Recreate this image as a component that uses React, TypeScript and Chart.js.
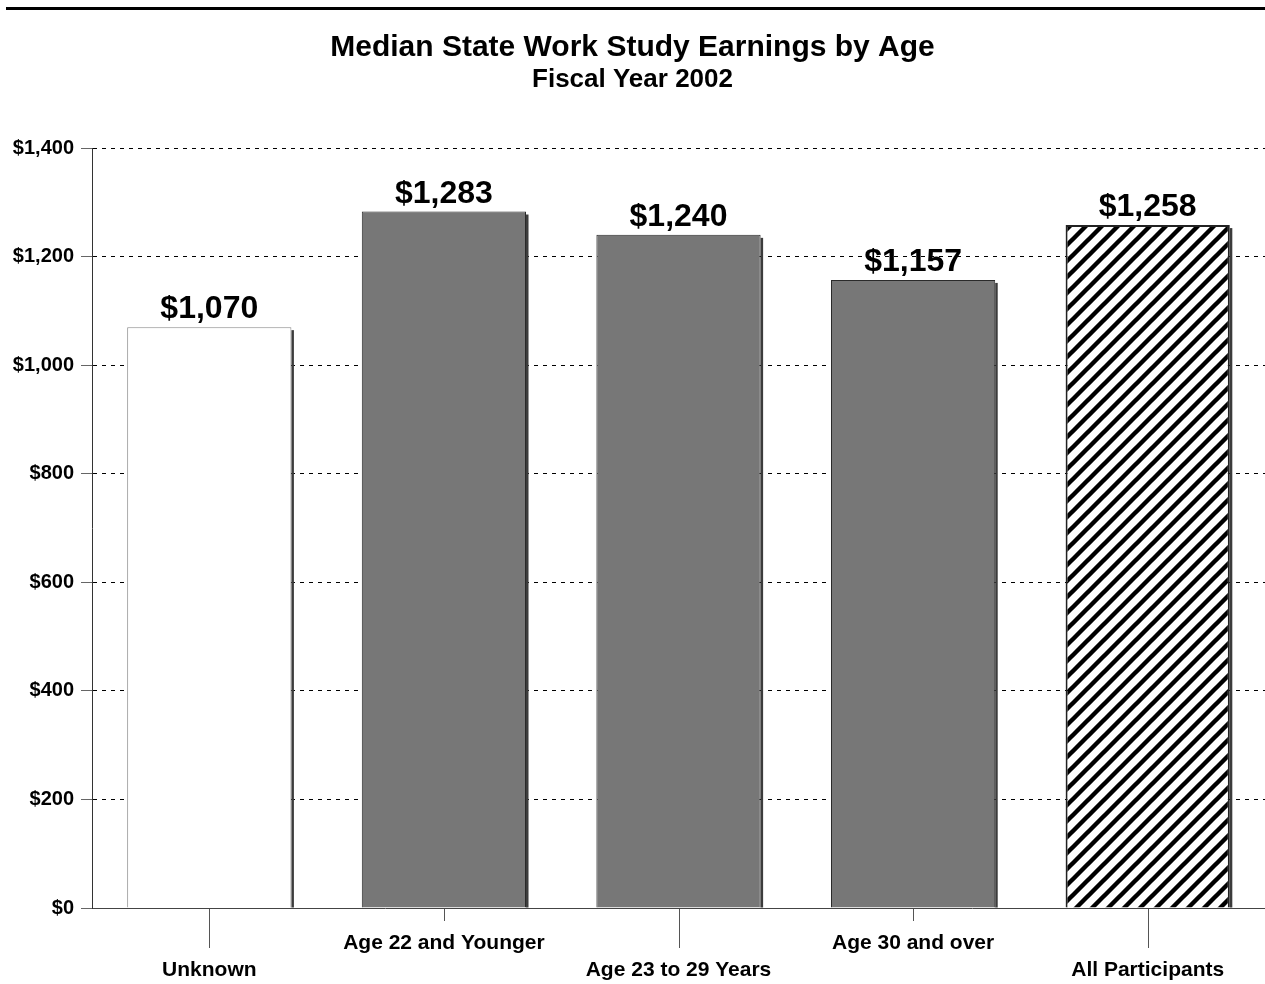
import React, { useEffect, useRef } from "react";
import { Chart, registerables } from "chart.js";

Chart.register(...registerables);

const categories = [
  "Unknown",
  "Age 22 and Younger",
  "Age 23 to 29 Years",
  "Age 30 and over",
  "All Participants",
];
const earnings = [1070, 1283, 1240, 1157, 1258];
const yMin = 0;
const yMax = 1400;
const yStep = 200;
const titleText = "Median State Work Study Earnings by Age";
const subtitleText = "Fiscal Year 2002";

const FONT = "Arial, 'Liberation Sans', Helvetica, sans-serif";

const fmt = (v: number) => "$" + Number(v).toLocaleString("en-US");

function makeHatch(ctx: CanvasRenderingContext2D) {
  const s = 16;
  const c = document.createElement("canvas");
  c.width = s;
  c.height = s;
  const g = c.getContext("2d")!;
  g.fillStyle = "#fff";
  g.fillRect(0, 0, s, s);
  g.strokeStyle = "#000";
  g.lineWidth = 4.4;
  g.beginPath();
  g.moveTo(-2, s + 2);
  g.lineTo(s + 2, -2);
  g.moveTo(-4, 4);
  g.lineTo(4, -4);
  g.moveTo(s - 4, s + 4);
  g.lineTo(s + 4, s - 4);
  g.stroke();
  return ctx.createPattern(c, "repeat")!;
}

const topLinePlugin = {
  id: "topLine",
  beforeDraw(chart: any) {
    const ctx = chart.ctx;
    ctx.save();
    ctx.fillStyle = "#fff";
    ctx.fillRect(0, 0, chart.width, chart.height);
    ctx.fillStyle = "#000";
    ctx.fillRect(6, 7, chart.width - 6, 3);
    ctx.restore();
  },
};

const shadowPlugin = {
  id: "barShadow",
  beforeDatasetsDraw(chart: any) {
    const ctx = chart.ctx;
    const meta = chart.getDatasetMeta(0);
    ctx.save();
    ctx.fillStyle = "#3c3c3c";
    meta.data.forEach((bar: any) => {
      const { x, y, base, width } = bar.getProps(["x", "y", "base", "width"], true);
      ctx.fillRect(x + width / 2, y + 3, 2.5, base - y - 3);
    });
    ctx.restore();
  },
};

const valueLabelPlugin = {
  id: "valueLabels",
  afterDatasetsDraw(chart: any) {
    const ctx = chart.ctx;
    const meta = chart.getDatasetMeta(0);
    ctx.save();
    ctx.fillStyle = "#000";
    ctx.font = `bold 32px ${FONT}`;
    ctx.textAlign = "center";
    ctx.textBaseline = "alphabetic";
    meta.data.forEach((bar: any, i: number) => {
      ctx.fillText(fmt(earnings[i]), bar.x, bar.y - 9);
    });
    ctx.restore();
  },
};

const xTickPlugin = {
  id: "xTicks",
  afterDraw(chart: any) {
    const ctx = chart.ctx;
    const xs = chart.scales.x;
    const bottom = chart.chartArea.bottom;
    ctx.save();
    ctx.strokeStyle = "#555";
    ctx.lineWidth = 1;
    categories.forEach((_, i) => {
      const x = Math.round(xs.getPixelForValue(i)) + 0.5;
      const len = i % 2 === 0 ? 40 : 13;
      ctx.beginPath();
      ctx.moveTo(x, bottom + 1);
      ctx.lineTo(x, bottom + len);
      ctx.stroke();
    });
    ctx.restore();
  },
};

export default function App() {
  const ref = useRef<HTMLCanvasElement | null>(null);

  useEffect(() => {
    const canvas = ref.current!;
    const ctx = canvas.getContext("2d")!;
    const hatch = makeHatch(ctx);
    const chart = new Chart(ctx, {
      type: "bar",
      data: {
        labels: categories,
        datasets: [
          {
            data: earnings,
            backgroundColor: ["#ffffff", "#777777", "#777777", "#777777", hatch as any],
            borderColor: ["#888888", "#2a2a2a", "#2a2a2a", "#2a2a2a", "#222222"],
            borderWidth: [1, 1, 1, 1, 2],
            barPercentage: 0.7,
            categoryPercentage: 1,
          },
        ],
      },
      options: {
        responsive: false,
        animation: false,
        layout: { padding: { left: 0, right: 0, top: 0, bottom: 0 } },
        plugins: {
          legend: { display: false },
          tooltip: { enabled: false },
          title: {
            display: true,
            text: titleText,
            color: "#000",
            font: { family: FONT, size: 30, weight: "bold" },
            padding: { top: 30, bottom: 0 },
          },
          subtitle: {
            display: true,
            text: subtitleText,
            color: "#000",
            font: { family: FONT, size: 26, weight: "bold" },
            padding: { top: -1.5, bottom: 52.3 },
          },
        },
        scales: {
          x: {
            afterFit: (s: any) => {
              s.height = 76;
            },
            grid: { display: true, drawOnChartArea: false, drawTicks: false },
            border: { display: true, color: "#444", width: 1 },
            ticks: {
              padding: 21.5,
              color: "#000",
              autoSkip: false,
              maxRotation: 0,
              font: { family: FONT, size: 21, weight: "bold", lineHeight: 27 / 21 },
              callback: (_v: any, i: number) =>
                i % 2 === 0 ? ["", categories[i]] : [categories[i]],
            },
          },
          y: {
            min: yMin,
            max: yMax,
            afterFit: (s: any) => {
              s.width = 92;
            },
            grid: {
              color: (c: any) => (c.tick && c.tick.value === 0 ? "rgba(0,0,0,0)" : "#000"),
              lineWidth: 1,
              tickLength: 11,
              tickColor: "#666",
            },
            border: { display: true, color: "#333", width: 1, dash: [4, 5] },
            ticks: {
              stepSize: yStep,
              padding: 7,
              color: "#000",
              font: { family: FONT, size: 20, weight: "bold" },
              callback: (v: any) => fmt(v),
            },
          },
        },
      },
      plugins: [topLinePlugin, shadowPlugin, valueLabelPlugin, xTickPlugin],
    } as any);
    return () => chart.destroy();
  }, []);

  return (
    <div style={{ position: "absolute", left: 0, top: 0, width: 1265, height: 984 }}>
      <canvas ref={ref} width={1265} height={984} style={{ display: "block" }} />
    </div>
  );
}
